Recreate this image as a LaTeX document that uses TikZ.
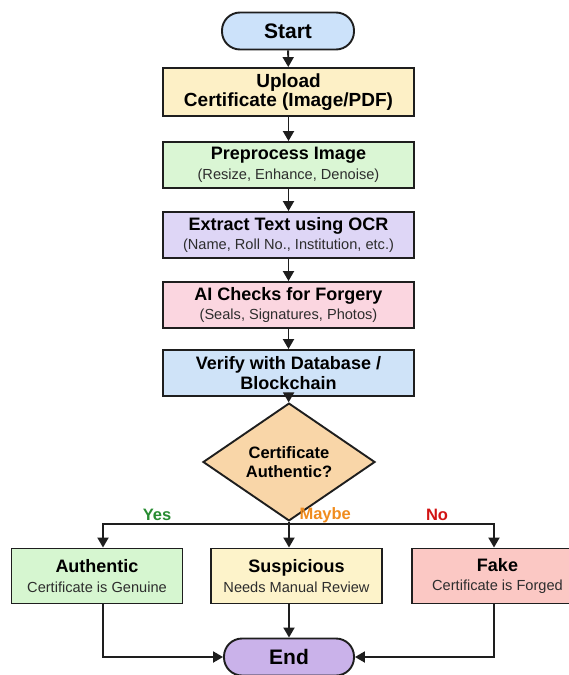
\documentclass[tikz,border=0pt]{standalone}
\usepackage{fontspec}
\setmainfont{Liberation Sans}
\usetikzlibrary{shapes.geometric,arrows.meta}
\definecolor{cstart}{RGB}{204,226,250}
\definecolor{cupload}{RGB}{253,240,198}
\definecolor{cpre}{RGB}{218,246,212}
\definecolor{cocr}{RGB}{222,214,246}
\definecolor{cai}{RGB}{251,214,224}
\definecolor{cver}{RGB}{207,227,248}
\definecolor{cdec}{RGB}{249,214,168}
\definecolor{cauth}{RGB}{214,246,208}
\definecolor{csusp}{RGB}{253,243,202}
\definecolor{cfake}{RGB}{251,200,196}
\definecolor{cend}{RGB}{202,178,234}
\definecolor{cline}{RGB}{30,30,30}
\definecolor{csub}{RGB}{45,45,45}
\definecolor{cyes}{RGB}{40,140,50}
\definecolor{cmaybe}{RGB}{240,140,30}
\definecolor{cno}{RGB}{210,20,20}
\newcommand{\ttl}{\fontsize{18}{21}\selectfont\bfseries}
\newcommand{\ttlb}{\fontsize{19}{21}\selectfont\bfseries}
\newcommand{\sbt}{\fontsize{14.6}{19}\selectfont\color{csub}}
\begin{document}
\begin{tikzpicture}[x=1pt,y=-1pt,
  box/.style={draw=cline,line width=1.9pt,rectangle,align=center,inner sep=2pt,text=black,font=\fontsize{14.6}{19.5}\selectfont},
  term/.style={box,rounded corners=18pt,minimum width=130pt,minimum height=37pt,font=\fontsize{21}{24}\selectfont\bfseries},
  proc/.style={box,minimum width=251pt,minimum height=46pt},
  res/.style={box,minimum width=171pt,minimum height=55pt},
  arr/.style={draw=cline,line width=1.9pt,-{Triangle[length=10pt,width=11pt]}},
  lnk/.style={draw=cline,line width=1.9pt},
  lbl/.style={font=\fontsize{16.5}{18}\selectfont\bfseries}
]
\useasboundingbox (0,0) rectangle (569,675);
\node[term,fill=cstart,minimum width=132pt] (start) at (288,31) {Start};
\node[proc,fill=cupload,minimum height=48pt] (upload) at (288.5,92) {{\ttlb Upload}\\{\ttlb Certificate (Image/PDF)}};
\node[proc,fill=cpre] (pre) at (288.5,165) {{\ttl Preprocess Image}\\{\sbt (Resize, Enhance, Denoise)}};
\node[proc,fill=cocr] (ocr) at (288.5,235) {{\ttl Extract Text using OCR}\\{\sbt (Name, Roll No., Institution, etc.)}};
\node[proc,fill=cai] (ai) at (288.5,305) {{\ttl AI Checks for Forgery}\\{\sbt (Seals, Signatures, Photos)}};
\node[proc,fill=cver] (ver) at (288.5,373) {{\ttl Verify with Database /}\\{\ttl Blockchain}};
\node[draw=cline,line width=1.9pt,diamond,fill=cdec,minimum width=172pt,minimum height=85pt,inner sep=0pt,align=center,font=\fontsize{16.5}{19.5}\selectfont\bfseries] (dec) at (289,462) {Certificate\\Authentic?};
\node[res,fill=cauth] (auth) at (97,576) {{\ttl Authentic}\\{\sbt Certificate is Genuine}};
\node[res,fill=csusp] (susp) at (296.5,576) {{\ttl Suspicious}\\{\sbt Needs Manual Review}};
\node[res,fill=cfake] (fake) at (497.5,576) {{\ttl Fake}\\{\sbt Certificate is Forged}};
\node[term,fill=cend] (end) at (289,657) {End};
\coordinate (split) at (289,524);
\coordinate (colA) at (103,524);
\coordinate (colC) at (494,524);
\draw[arr] (start) -- (upload);
\draw[arr] (upload) -- (pre);
\draw[arr] (pre) -- (ocr);
\draw[arr] (ocr) -- (ai);
\draw[arr] (ai) -- (ver);
\draw[arr] (ver) -- (dec);
\draw[lnk] (dec.south) -- (split);
\draw[arr] (split) -| (auth.north -| colA);
\draw[arr] (split) -| (fake.north -| colC);
\draw[arr] (split) -- (susp.north -| split);
\draw[arr] (susp.south -| split) -- (end.north);
\draw[arr] (auth.south -| colA) |- (end.west);
\draw[arr] (fake.south -| colC) |- (end.east);
\node[lbl,text=cyes] (yes) at (157,515) {Yes};
\node[lbl,text=cmaybe,anchor=west] (maybe) at (296,515) {Maybe};
\node[lbl,text=cno] (no) at (437,515) {No};
\end{tikzpicture}
\end{document}
